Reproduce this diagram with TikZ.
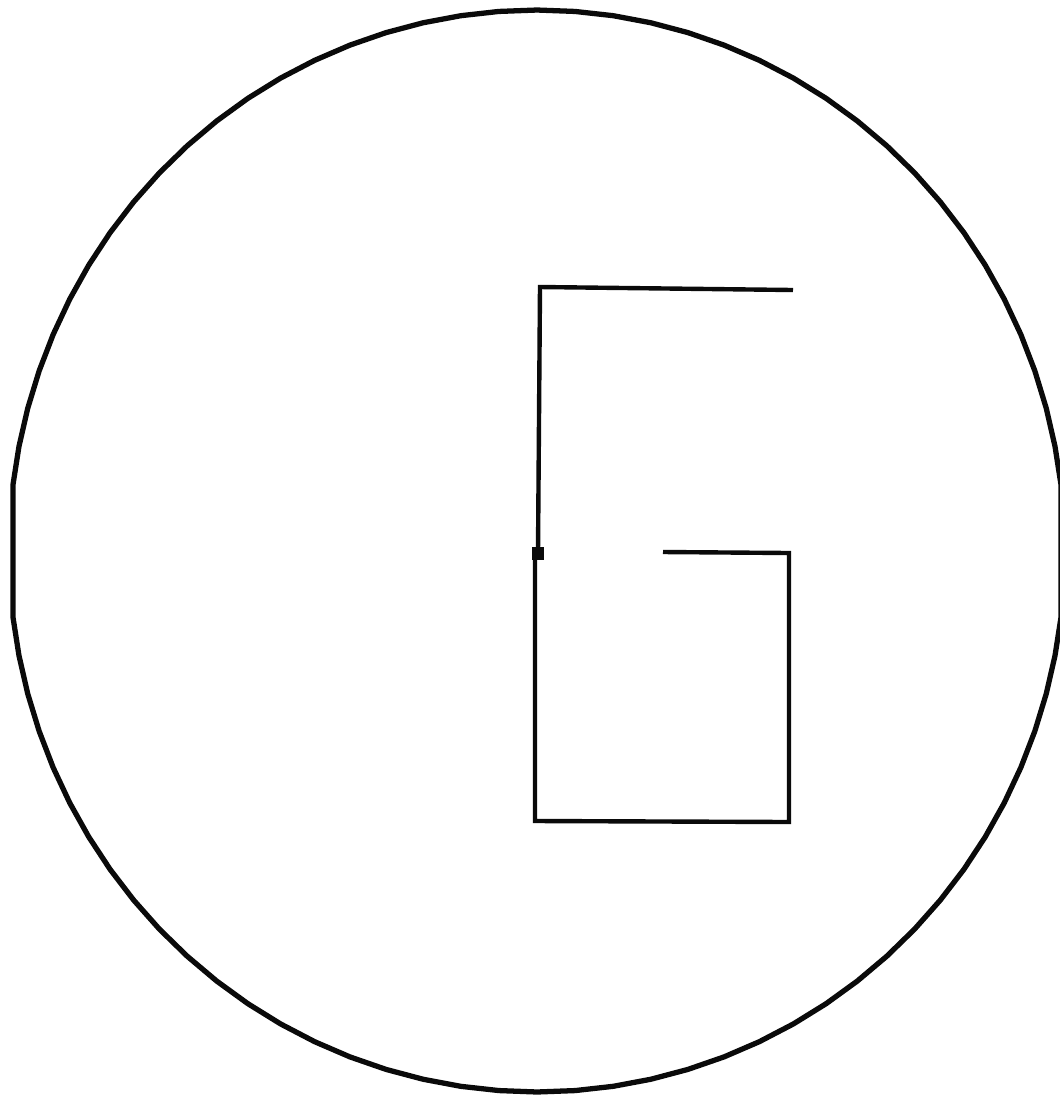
\documentclass[tikz,border=0pt]{standalone}
\usepackage{tikz}
\usetikzlibrary{calc}
\definecolor{encre}{RGB}{10,10,10}

\begin{document}
\begin{tikzpicture}[x=0.01cm,y=-0.01cm,
		contour/.style={draw=encre,line width=1.5pt,line join=round},
		trait/.style={draw=encre,line width=1.25pt,line join=miter}]
	\useasboundingbox (0,0) rectangle (1060,1099);
	
	% cercle trace point par point, cotes plats a gauche et a droite
	\begin{scope}[shift={(537,551)}]
		\draw[contour] plot[domain=7:173,samples=41] ({528*cos(\x)},{541*sin(\x)})
			-- plot[domain=187:353,samples=41] ({528*cos(\x)},{541*sin(\x)}) -- cycle;
	\end{scope}
	
	% la lettre G
	\coordinate (hautD) at (793,290);
	\coordinate (hautG) at (540,287);
	\coordinate (milG) at (538,553);
	\coordinate (basG) at (535,821);
	\coordinate (basD) at (789,822);
	\coordinate (milD) at (789,553);
	\coordinate (barre) at (663,552);
	
	\draw[trait] (hautD) -- (hautG) -- (milG);
	\draw[trait] (535,553) -- (basG) -- (basD) -- (milD) -- (barre);
	\fill[encre] ($(milG)+(-6,-6)$) rectangle ($(milG)+(6,7)$);
\end{tikzpicture}
\end{document}
